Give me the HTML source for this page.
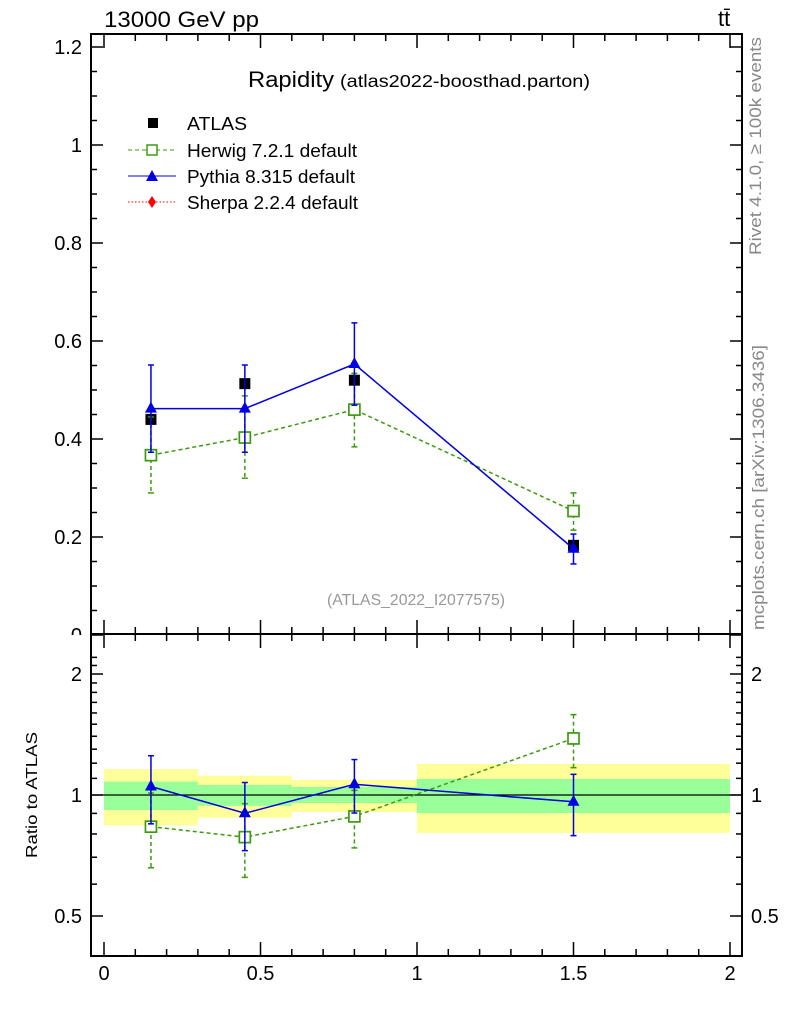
<!DOCTYPE html>
<html><head><meta charset="utf-8"><style>
html,body{margin:0;padding:0;background:#fff;}
svg{display:block;font-family:"Liberation Sans",sans-serif;}
</style></head><body>
<svg id="chart" width="786" height="1024" viewBox="0 0 786 1024">
<g id="bands"></g>
<g id="axes"></g>
<g id="series"></g>
<text x="104" y="27" font-size="22" textLength="155" lengthAdjust="spacingAndGlyphs">13000 GeV pp</text>
<text x="718" y="26" font-size="22">tt̄</text>
<text x="248" y="87" font-size="22" textLength="86" lengthAdjust="spacingAndGlyphs">Rapidity</text>
<text x="340" y="87" font-size="17.5" textLength="250" lengthAdjust="spacingAndGlyphs">(atlas2022-boosthad.parton)</text>
<text x="327" y="605" font-size="15.5" fill="#999" textLength="178" lengthAdjust="spacingAndGlyphs">(ATLAS_2022_I2077575)</text>
<text transform="translate(761,255) rotate(-90)" font-size="17" fill="#888" textLength="218" lengthAdjust="spacingAndGlyphs">Rivet 4.1.0, ≥ 100k events</text>
<text transform="translate(764,630) rotate(-90)" font-size="17" fill="#888" textLength="285" lengthAdjust="spacingAndGlyphs">mcplots.cern.ch [arXiv:1306.3436]</text>
<text transform="translate(37,858) rotate(-90)" font-size="16" textLength="126" lengthAdjust="spacingAndGlyphs">Ratio to ATLAS</text>
<g>
<rect x="148" y="118" width="10" height="10" fill="#000"/>
<text x="187" y="130" font-size="18" textLength="60" lengthAdjust="spacingAndGlyphs">ATLAS</text>
<line x1="128" y1="150" x2="176" y2="150" stroke="#3c9a10" stroke-dasharray="4,3"/>
<rect x="147" y="145" width="10" height="10" fill="#fff" stroke="#3c9a10" stroke-width="1.5"/>
<text x="187" y="157" font-size="18" textLength="170" lengthAdjust="spacingAndGlyphs">Herwig 7.2.1 default</text>
<line x1="128" y1="176" x2="176" y2="176" stroke="#0000e0"/>
<polygon points="152,170 158,181 146,181" fill="#0000e0"/>
<text x="187" y="183" font-size="18" textLength="168" lengthAdjust="spacingAndGlyphs">Pythia 8.315 default</text>
<line x1="128" y1="202" x2="176" y2="202" stroke="#f00" stroke-dasharray="1.5,2"/>
<polygon points="152,196 156,202 152,208 148,202" fill="#f00"/>
<text x="187" y="209" font-size="18" textLength="171" lengthAdjust="spacingAndGlyphs">Sherpa 2.2.4 default</text>
</g>
</svg>
<script>
// data
const binEdges=[0,0.3,0.6,1.0,2.0];
const xCenters=[0.15,0.45,0.8,1.5];
const atlasVals=[0.44,0.513,0.52,0.183];
const statHi=[1.08,1.06,1.047,1.096];
const statLo=[0.917,0.94,0.955,0.902];
const totHi=[1.16,1.117,1.09,1.195];
const totLo=[0.84,0.878,0.907,0.805];
const herwigVals=[0.367,0.403,0.46,0.253];
const herwigUp=[0.445,0.488,0.534,0.29];
const herwigDn=[0.29,0.32,0.384,0.214];
const pythiaVals=[0.462,0.462,0.553,0.176];
const pythiaUp=[0.551,0.551,0.637,0.206];
const pythiaDn=[0.373,0.373,0.469,0.145];
const mainYTicks=[0,0.2,0.4,0.6,0.8,1,1.2];
const mainYLabels=["0","0.2","0.4","0.6","0.8","1","1.2"];
const ratioYTicks=[0.5,1,2];
const ratioYLabels=["0.5","1","2"];
const xTicks=[0,0.5,1,1.5,2];
const xLabels=["0","0.5","1","1.5","2"];

const NS="http://www.w3.org/2000/svg";
const L=91,R=742,T=34,MID=634,B=956;
const X=v=>104+v*313;
const Y=v=>635-v*490;
const RY=v=>795-Math.log2(v)*121;
function mk(parent,tag,attrs){const e=document.createElementNS(NS,tag);for(const k in attrs)e.setAttribute(k,attrs[k]);document.getElementById(parent).appendChild(e);return e;}

for(let i=0;i<xCenters.length;i++){
 const x0=X(binEdges[i]),x1=X(binEdges[i+1]);
 let e=mk('bands','rect',{x:x0,y:RY(totHi[i]),width:x1-x0,height:RY(totLo[i])-RY(totHi[i]),fill:'#ffff99'});
 
 
 e=mk('bands','rect',{x:x0,y:RY(statHi[i]),width:x1-x0,height:RY(statLo[i])-RY(statHi[i]),fill:'#99ff99'});
 
 
}
let e=mk('bands','line',{x1:L,x2:R,y1:RY(1),y2:RY(1),stroke:'#000','stroke-width':1.2});



function tick(x1,y1,x2,y2){const t=mk('axes','line',{x1,y1,x2,y2,stroke:'#000','stroke-width':1.5});}
mainYTicks.forEach((v,i)=>{const t=mk('axes','text',{x:L-9,y:Y(v)+7,'font-size':20,'text-anchor':'end'});t.textContent=mainYLabels[i];});
e=mk('axes','rect',{x:40,y:MID+1,width:L-41,height:16,fill:'#fff'});


e=mk('axes','rect',{x:L,y:T,width:R-L,height:B-T,fill:'none',stroke:'#000','stroke-width':2});


e=mk('axes','line',{x1:L,x2:R,y1:MID,y2:MID,stroke:'#000','stroke-width':2});


for(let v=0;v<=1.2001;v+=0.05){const y=Y(v);const maj=Math.abs(v*5-Math.round(v*5))<1e-6;const len=maj?12:6;if(y<T+1)continue;tick(L,y,L+len,y);tick(R,y,R-len,y);}
for(let k=5;k<=22;k++){const v=k/10;const y=RY(v);if(y<MID+2||y>B-2)continue;const maj=(v===0.5||v===1||v===2);const len=maj?12:6;tick(L,y,L+len,y);tick(R,y,R-len,y);}
ratioYTicks.forEach((v,i)=>{let t=mk('axes','text',{x:L-9,y:RY(v)+7,'font-size':20,'text-anchor':'end'});t.textContent=ratioYLabels[i];
 t=mk('axes','text',{x:R+9,y:RY(v)+7,'font-size':20});t.textContent=ratioYLabels[i];});
for(let k=0;k<=20;k++){const v=k/10;const x=X(v);const maj=k%5===0;const len=maj?14:7;
 tick(x,T,x,T+len);tick(x,MID,x,MID-len);tick(x,MID,x,MID+len);tick(x,B,x,B-len);}
xTicks.forEach((v,i)=>{const t=mk('axes','text',{x:X(v),y:980,'font-size':20,'text-anchor':'middle'});t.textContent=xLabels[i];});

function drawSeries(vals,up,dn,color,dash,marker,name,ratio){
 const fy=(v,i)=>ratio?RY(v/atlasVals[i]):Y(v);
 const pts=vals.map((v,i)=>X(xCenters[i])+','+fy(v,i)).join(' ');
 let p=mk('series','polyline',{points:pts,fill:'none',stroke:color,'stroke-width':1.5,'stroke-dasharray':dash});
 
 
 vals.forEach((v,i)=>{
  const x=X(xCenters[i]),y=fy(v,i),yu=fy(up[i],i),yd=fy(dn[i],i);
  let l=mk('series','line',{x1:x,x2:x,y1:yu,y2:yd,stroke:color,'stroke-width':1.5,'stroke-dasharray':dash});
  
  
  [yu,yd].forEach(yy=>{const c=mk('series','line',{x1:x-3,x2:x+3,y1:yy,y2:yy,stroke:color,'stroke-width':1.5});});
  let m;
  if(marker==='sq'){m=mk('series','rect',{x:x-5.5,y:y-5.5,width:11,height:11,fill:'#fff',stroke:color,'stroke-width':1.7});}
  else {m=mk('series','polygon',{points:`${x},${y-7} ${x+6},${y+4} ${x-6},${y+4}`,fill:color});}
  
  
 });
}
atlasVals.forEach((v,i)=>{const m=mk('series','rect',{x:X(xCenters[i])-5.5,y:Y(v)-5.5,width:11,height:11,fill:'#000'});
 
 });
drawSeries(herwigVals,herwigUp,herwigDn,'#3c9a10','4,3','sq','herwig',false);
drawSeries(pythiaVals,pythiaUp,pythiaDn,'#0000e0','none','tri','pythia',false);
drawSeries(herwigVals,herwigUp,herwigDn,'#3c9a10','4,3','sq','herwig',true);
drawSeries(pythiaVals,pythiaUp,pythiaDn,'#0000e0','none','tri','pythia',true);
</script>
</body></html>
